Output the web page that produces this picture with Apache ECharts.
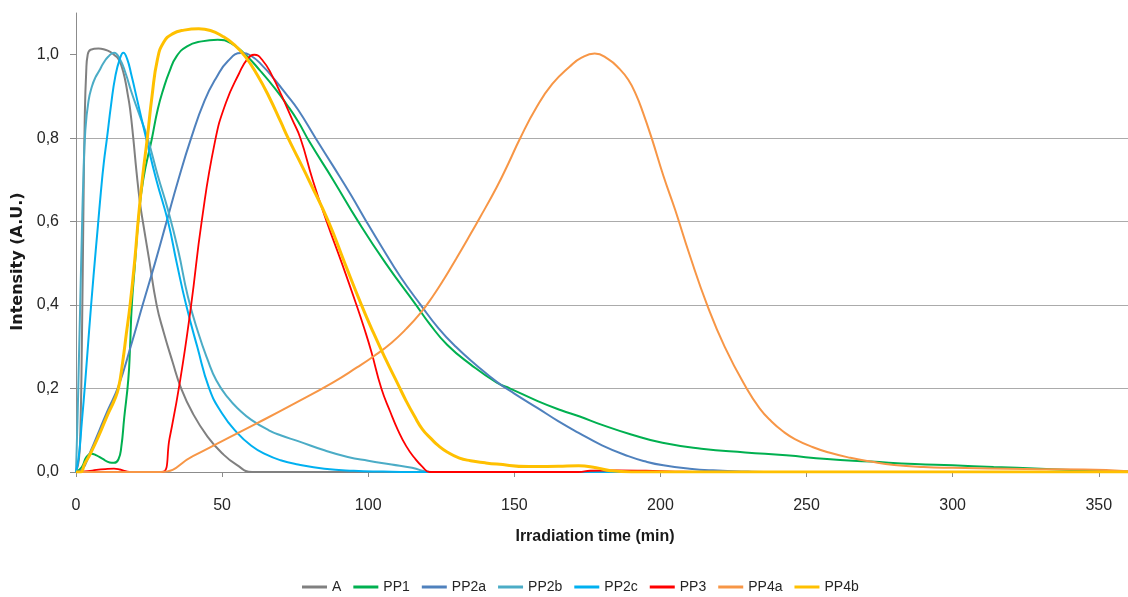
<!DOCTYPE html>
<html>
<head>
<meta charset="utf-8">
<script src="https://cdn.jsdelivr.net/npm/echarts@6/dist/echarts.min.js"></script>
<style>
html,body{margin:0;padding:0;background:#fff;}
#c{width:1128px;height:597px;}
</style>
</head>
<body>
<div id="c"></div>
<script>
// ---- data (t in min, intensity A.U.) ----
var seriesNames = ['A','PP1','PP2a','PP2b','PP2c','PP3','PP4a','PP4b'];
var yTicks = [0, 0.2, 0.4, 0.6, 0.8, 1.0];
var xTicks = [0, 50, 100, 150, 200, 250, 300, 350];

var A = [[0,0],[1,0.03],[1.5,0.1],[2,0.3],[2.5,0.6],[3,0.85],[3.5,0.96],[4,1.0],[5,1.012],[7.7,1.015],[10,1.012],[11.7,1.007],[13,1.0],[14.5,0.99],[15.7,0.97],[16.8,0.94],[17.7,0.905],[18.5,0.87],[19.6,0.8],[20.7,0.72],[21.9,0.645],[23,0.595],[25,0.51],[27.6,0.4],[30,0.335],[33,0.265],[36,0.2],[40,0.14],[45,0.085],[50,0.045],[55,0.017],[60.3,0],[360,0]];

var PP1 = [[0,0],[2,0.012],[3.5,0.035],[5.2,0.044],[7,0.04],[9,0.032],[11.5,0.023],[13,0.022],[14.5,0.03],[15.5,0.06],[16.5,0.13],[17.9,0.222],[18.5,0.3],[19.1,0.4],[20.2,0.5],[21.3,0.6],[23,0.7],[26,0.8],[28,0.87],[30,0.92],[32,0.96],[34.3,0.995],[38,1.02],[43,1.032],[48.5,1.036],[53,1.028],[58,1.0],[63,0.962],[68,0.92],[72,0.882],[76,0.84],[80,0.79],[88,0.7],[96.6,0.6],[106,0.5],[116.4,0.4],[121,0.355],[127,0.305],[135,0.258],[144,0.214],[148.6,0.2],[158,0.17],[166,0.148],[172.4,0.133],[180,0.113],[190,0.09],[200.7,0.07],[214,0.056],[229,0.047],[243,0.04],[257,0.031],[272,0.025],[287,0.019],[300,0.016],[314,0.012],[330,0.008],[348,0.003],[360,0.001]];

var PP2a = [[0,0],[2,0.005],[5,0.05],[8,0.1],[11,0.15],[14.5,0.205],[18.7,0.3],[22.8,0.4],[27,0.5],[31,0.6],[35,0.7],[39.4,0.8],[44,0.89],[48,0.945],[52,0.985],[56.5,1.004],[60,0.997],[64,0.972],[68,0.94],[72,0.905],[76,0.868],[82,0.8],[88,0.733],[94,0.665],[99.4,0.6],[105,0.535],[111,0.468],[118,0.4],[124,0.345],[130,0.3],[137,0.256],[144,0.216],[150,0.188],[158,0.153],[165,0.122],[172,0.094],[180,0.064],[189,0.038],[195,0.025],[201,0.016],[210,0.008],[218,0.004],[230,0.001],[240,0],[360,0]];

var PP2b = [[0,0],[0.5,0.12],[1,0.27],[1.5,0.42],[2,0.57],[2.5,0.7],[3.2,0.82],[4.3,0.89],[5.5,0.925],[6.6,0.945],[8,0.962],[9.4,0.98],[11,0.995],[13,1.005],[15,0.99],[17,0.955],[19,0.91],[21.5,0.86],[24.5,0.8],[28,0.71],[31.4,0.63],[35,0.53],[38.3,0.42],[42,0.33],[45,0.27],[48,0.22],[52,0.178],[56,0.148],[60,0.125],[66,0.1],[70,0.088],[76,0.074],[85,0.052],[93,0.036],[100,0.027],[108,0.018],[115,0.01],[121.5,0],[360,0]];

var PP2c = [[0,0],[1,0.04],[2,0.12],[3.2,0.22],[4.5,0.34],[6,0.47],[7.5,0.59],[8.5,0.67],[9.5,0.74],[10.6,0.8],[12,0.88],[13.5,0.95],[15,0.99],[16.2,1.005],[17.5,0.99],[19,0.95],[21,0.89],[24,0.8],[27.5,0.7],[31.5,0.6],[34.5,0.5],[37.7,0.4],[41.5,0.3],[45.6,0.2],[50,0.14],[55,0.095],[60,0.063],[65,0.042],[70,0.028],[76,0.018],[85,0.008],[95,0.003],[105,0.001],[115,0],[360,0]];

var PP3 = [[0,0],[4,0.002],[7,0.005],[10,0.007],[13,0.008],[15,0.006],[17,0.002],[19,0],[29.5,0],[32,0.08],[35.7,0.222],[39.4,0.4],[43,0.6],[47.5,0.79],[51.3,0.885],[55.8,0.955],[58.7,0.99],[61,1.0],[64,0.985],[67.1,0.95],[70.5,0.9],[73.9,0.846],[76.8,0.8],[81,0.7],[85.8,0.6],[91,0.5],[96,0.4],[98.6,0.345],[101,0.29],[104.5,0.2],[107.5,0.145],[110.2,0.1],[113,0.062],[115.8,0.034],[118.5,0.013],[121,0],[172,0],[176,0.003],[185,0.004],[195,0.003],[205,0.001],[215,0],[360,0]];

var PP4a = [[0,0],[29,0],[40,0.038],[50,0.074],[62,0.117],[75,0.165],[88,0.215],[96,0.25],[102,0.278],[108,0.31],[113,0.343],[118,0.382],[122,0.42],[126,0.463],[130,0.51],[134,0.558],[138,0.607],[144,0.683],[148,0.74],[152,0.8],[157.5,0.873],[163,0.93],[169,0.972],[173,0.993],[177.5,1.003],[182,0.99],[186,0.966],[189,0.94],[191.6,0.905],[194,0.862],[197,0.8],[201,0.71],[205,0.629],[210,0.52],[216,0.4],[222,0.3],[229.5,0.2],[234,0.152],[238,0.121],[242,0.097],[246,0.079],[252,0.06],[258,0.046],[265,0.034],[272,0.025],[280,0.017],[290,0.012],[300,0.01],[325,0.007],[345,0.006],[360,0.002]];

var PP4b = [[0,0],[1.5,0],[3,0.02],[5,0.045],[8,0.09],[11,0.14],[13,0.17],[14.5,0.2],[16,0.265],[17.2,0.33],[18.5,0.4],[20,0.5],[21.5,0.62],[23,0.72],[24.4,0.8],[26,0.9],[27.9,0.99],[30,1.03],[33,1.05],[37,1.059],[42,1.062],[46,1.058],[50,1.045],[54,1.025],[58,0.995],[62,0.952],[66,0.9],[70,0.84],[72.6,0.8],[76,0.752],[80,0.695],[86.4,0.6],[92,0.5],[97.7,0.4],[101.7,0.335],[106,0.27],[110.2,0.21],[113,0.17],[115.8,0.134],[118.5,0.103],[121.5,0.08],[124,0.063],[127,0.048],[131,0.034],[135,0.027],[140,0.022],[144,0.019],[155,0.013],[165,0.014],[172,0.015],[178,0.01],[183,0.003],[190,0],[360,0]];

var seriesData = [A, PP1, PP2a, PP2b, PP2c, PP3, PP4a, PP4b];
var colors = ['#808080','#00b050','#4f81bd','#4bacc6','#00b0f0','#ff0000','#f79646','#ffc000'];
var widths = [2, 2, 2, 2, 2, 1.8, 2, 3];

var chart = echarts.init(document.getElementById('c'), null, {renderer:'canvas'});
var series = seriesNames.map(function(n, i){
  return {
    name: n, type: 'line', data: seriesData[i],
    showSymbol: false, symbol: 'none', smooth: 0.5,
    lineStyle: {color: colors[i], width: widths[i]},
    itemStyle: {color: colors[i]},
    z: 2 + i
  };
});

chart.setOption({
  animation: false,
  backgroundColor: '#ffffff',
  textStyle: {fontFamily: 'Liberation Sans'},
  grid: {left: 76, top: 13, right: -8, bottom: 125, containLabel: false},
  legend: {
    data: seriesNames, left: 297, top: 575, icon: 'rect', itemWidth: 25, itemHeight: 3, itemGap: 12,
    textStyle: {fontSize: 14, color: '#262626', fontFamily: 'Liberation Sans'}
  },
  xAxis: {
    type: 'value', min: 0, max: 360, interval: 50,
    name: 'Irradiation time (min)', nameLocation: 'middle', nameGap: 57,
    nameTextStyle: {fontSize: 16, fontWeight: 'bold', color: '#1a1a1a', fontFamily: 'Liberation Sans', padding: [0, 14, 0, 0]},
    axisLine: {show: true, lineStyle: {color: '#8c8c8c', width: 1}},
    axisTick: {show: true, length: 5, lineStyle: {color: '#8c8c8c'}, customValues: xTicks},
    axisLabel: {fontSize: 16, color: '#262626', margin: 26, customValues: xTicks},
    splitLine: {show: false}
  },
  yAxis: {
    type: 'value', min: 0, max: 1.1, interval: 0.2,
    name: 'Intensity (A.U.)', nameLocation: 'middle', nameRotate: 90, nameGap: 45,
    nameTextStyle: {fontSize: 16, fontWeight: 'bold', color: '#1a1a1a', fontFamily: 'DejaVu Sans', padding: [0, 38, 0, 0]},
    axisLine: {show: true, lineStyle: {color: '#8c8c8c', width: 1}},
    axisTick: {show: true, length: 6, lineStyle: {color: '#8c8c8c'}, customValues: yTicks},
    axisLabel: {fontSize: 16, color: '#262626', margin: 17, customValues: yTicks,
      formatter: function(v){ return v.toFixed(1).replace('.', ','); }},
    splitLine: {show: true, showMaxLine: false, lineStyle: {color: '#ababab', width: 1}}
  },
  series: series
});
</script>
</body>
</html>
